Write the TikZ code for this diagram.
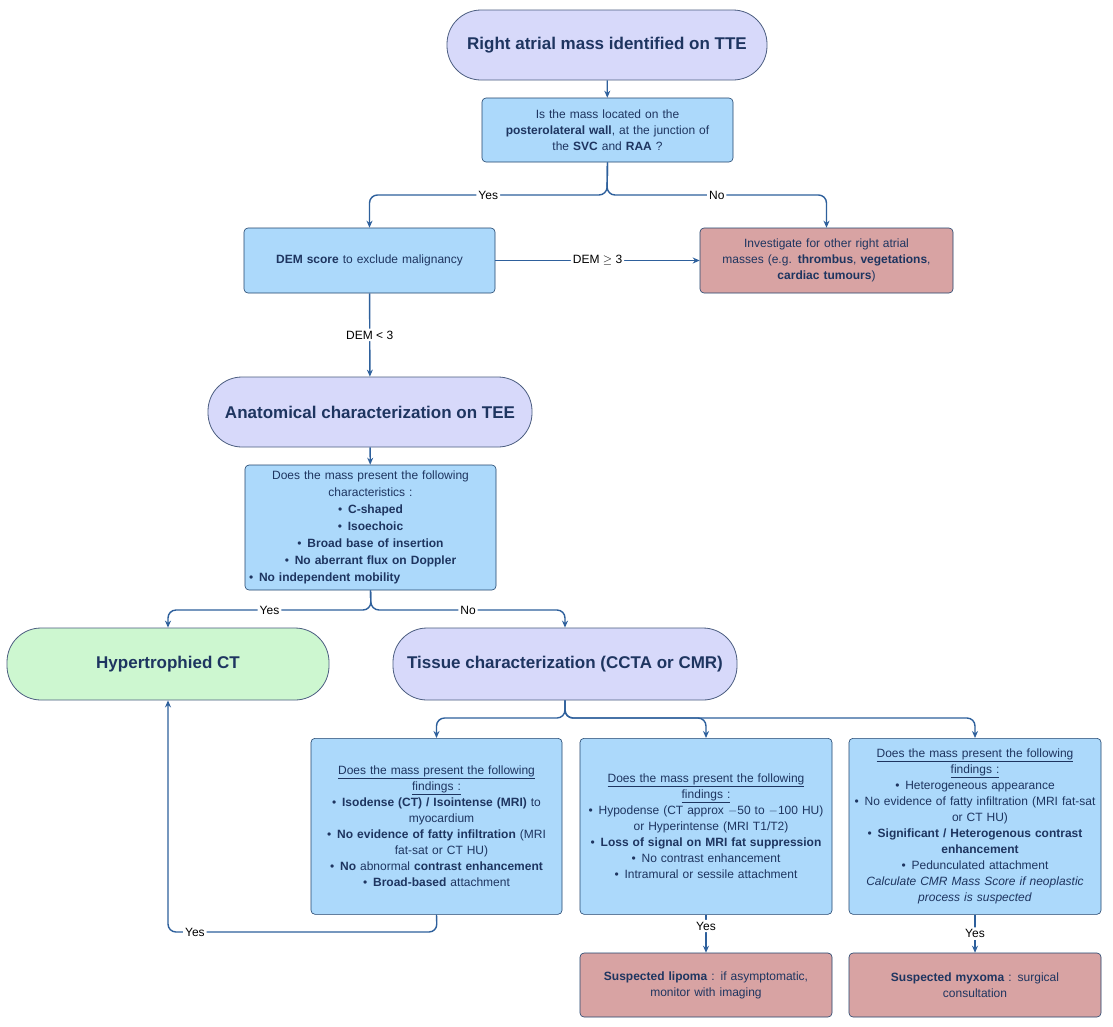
\documentclass[tikz,border=0pt]{standalone}
\usepackage{fontspec}
\setmainfont{Liberation Sans}
\usetikzlibrary{arrows.meta}
\definecolor{navy}{HTML}{1E3560}
\definecolor{lb}{HTML}{ACD9FB}
\definecolor{lav}{HTML}{D7D9FA}
\definecolor{pk}{HTML}{D8A3A3}
\definecolor{gr}{HTML}{CDF7D0}
\definecolor{ln}{HTML}{2E609C}
\newcommand{\bu}{\par\hangindent=10pt\hangafter=1\noindent\makebox[10pt][l]{\textbullet}}
\tikzset{
 box/.style={draw=ln!70!black, line width=0.6pt, rounded corners=4pt, fill=lb, text=navy, font=\fontsize{12}{16}\selectfont, align=center, inner sep=3pt},
 pill/.style={draw=navy!80, line width=0.8pt, rounded corners=34pt, fill=lav, text=navy, font=\fontsize{17}{20}\selectfont\bfseries, align=center},
 con/.style={draw=ln, line width=1.4pt, rounded corners=8pt},
 arr/.style={con, -{Stealth[length=7pt,width=6pt]}},
 lab/.style={fill=white, inner sep=2pt, font=\fontsize{12}{14}\selectfont, text=black}
}
\begin{document}
\begin{tikzpicture}[x=1pt,y=-1pt]
\useasboundingbox (0,0) rectangle (1113,1026);
\fill[white] (0,0) rectangle (1113,1026);
% nodes
\node[pill, minimum width=320, minimum height=70] (top) at (607,45) {Right atrial mass identified on TTE};
\node[box, minimum width=251, minimum height=64, text width=240] (q1) at (607.5,130) {Is the mass located on the\\\textbf{posterolateral wall}, at the junction of\\the \textbf{SVC} and \textbf{RAA} ?};
\node[box, minimum width=251, minimum height=65, text width=240] (dem) at (369.5,260.5) {\textbf{DEM score} to exclude malignancy};
\node[box, fill=pk, minimum width=253, minimum height=65, text width=245] (inv) at (826.5,260.5) {Investigate for other right atrial\\masses (e.g. \textbf{thrombus}, \textbf{vegetations},\\\textbf{cardiac tumours})};
\node[pill, minimum width=324, minimum height=70] (ana) at (370,412) {Anatomical characterization on TEE};
\node[box, minimum width=251, minimum height=125, text width=243, align=left, font=\fontsize{12}{17}\selectfont] (q2) at (370.5,527.5) {\centering Does the mass present the following\\characteristics :\par
\bu\textbf{C-shaped}\bu\textbf{Isoechoic}\bu\textbf{Broad base of insertion}\bu\textbf{No aberrant flux on Doppler}\bu\textbf{No independent mobility}};
\node[pill, fill=gr, minimum width=322, minimum height=72] (hyp) at (168,664) {Hypertrophied CT};
\node[pill, minimum width=344, minimum height=72] (tis) at (565,664) {Tissue characterization (CCTA or CMR)};
\node[box, minimum width=251, minimum height=176, text width=243, align=left, anchor=north] (b1) at (436.5,738) {\centering\underline{Does the mass present the following}\\\underline{findings :}\par
\bu\textbf{Isodense (CT) / Isointense (MRI)} to myocardium\bu\textbf{No evidence of fatty infiltration} (MRI fat-sat or CT HU)\bu\textbf{No} abnormal \textbf{contrast enhancement}\bu\textbf{Broad-based} attachment\par};
\node[box, minimum width=252, minimum height=176, text width=244, align=left, anchor=north] (b2) at (706,738) {\centering\underline{Does the mass present the following}\\\underline{findings :}\par
\bu Hypodense (CT approx $-$50 to $-$100 HU) or Hyperintense (MRI T1/T2)\bu\textbf{Loss of signal on MRI fat suppression}\bu No contrast enhancement\bu Intramural or sessile attachment\par};
\node[box, minimum width=252, minimum height=176, text width=244, align=left, anchor=north] (b3) at (975,738) {\centering\underline{Does the mass present the following}\\\underline{findings :}\par
\bu Heterogeneous appearance\bu No evidence of fatty infiltration (MRI fat-sat or CT HU)\bu\textbf{Significant / Heterogenous contrast enhancement}\bu Pedunculated attachment\par\noindent\textit{Calculate CMR Mass Score if neoplastic process is suspected}\par};
\node[box, fill=pk, minimum width=252, minimum height=64, text width=244] (lip) at (706,985) {\textbf{Suspected lipoma} : if asymptomatic,\\monitor with imaging};
\node[box, fill=pk, minimum width=252, minimum height=64, text width=244] (myx) at (975,985) {\textbf{Suspected myxoma} : surgical\\consultation};
% connectors
\draw[arr] (top) -- (q1);
\coordinate (s1) at (607,195);
\draw[arr] (q1.south) -- (s1) -| node[lab, pos=0.25]{Yes} (dem.north);
\draw[arr] (q1.south) -- (s1) -| node[lab, pos=0.25]{No} (inv.north);
\draw[arr] (dem) -- node[lab]{DEM $\geq$ 3} (inv);
\draw[arr] (dem) -- node[lab]{DEM < 3} (ana);
\draw[arr] (ana) -- (q2);
\coordinate (s2) at (371,610);
\draw[arr] (q2.south) -- (s2) -| node[lab, pos=0.25]{Yes} (hyp.north);
\draw[arr] (q2.south) -- (s2) -| node[lab, pos=0.25]{No} (tis.north);
\coordinate (s3) at (565,718);
\draw[arr] (tis.south) -- (s3) -| (b1.north);
\draw[arr] (tis.south) -- (s3) -| (b2.north);
\draw[arr] (tis.south) -- (s3) -| (b3.north);
\coordinate (c1) at (437,932);
\coordinate (c2) at (168,932);
\draw[arr] (b1.south) -- (c1) -- node[lab, pos=0.9]{Yes} (c2) -- (hyp.south);
\draw[arr] (b2) -- node[lab, pos=0.3]{Yes} (lip);
\draw[arr] (b3) -- node[lab, pos=0.5]{Yes} (myx);
\end{tikzpicture}
\end{document}
